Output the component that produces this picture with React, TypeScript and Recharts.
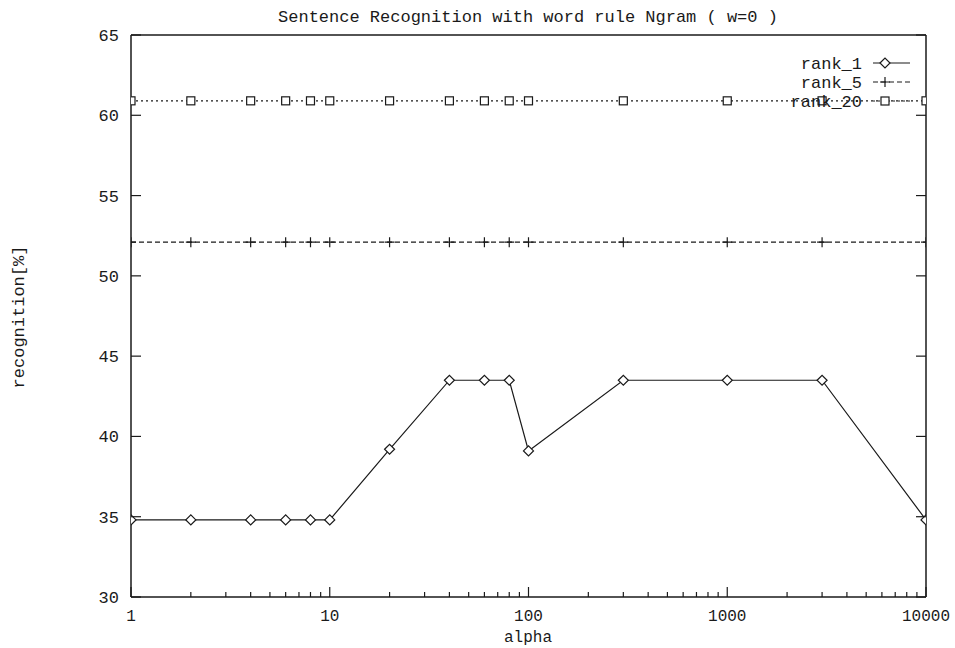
import React from 'react'
import { LineChart, Line, XAxis, YAxis } from 'recharts'

const alpha = [1, 2, 4, 6, 8, 10, 20, 40, 60, 80, 100, 300, 1000, 3000, 10000]
const rank1 = [34.8, 34.8, 34.8, 34.8, 34.8, 34.8, 39.2, 43.5, 43.5, 43.5, 39.1, 43.5, 43.5, 43.5, 34.8]
const rank5 = [52.1, 52.1, 52.1, 52.1, 52.1, 52.1, 52.1, 52.1, 52.1, 52.1, 52.1, 52.1, 52.1, 52.1, 52.1]
const rank20 = [60.9, 60.9, 60.9, 60.9, 60.9, 60.9, 60.9, 60.9, 60.9, 60.9, 60.9, 60.9, 60.9, 60.9, 60.9]

const xMajor = [1, 10, 100, 1000, 10000]
const xMinor = [2, 3, 4, 5, 6, 7, 8, 9, 20, 30, 40, 50, 60, 70, 80, 90, 200, 300, 400, 500, 600, 700, 800, 900, 2000, 3000, 4000, 5000, 6000, 7000, 8000, 9000]
const yTicks = [30, 35, 40, 45, 50, 55, 60, 65]

const data = alpha.map((a, i) => ({ alpha: a, rank_1: rank1[i], rank_5: rank5[i], rank_20: rank20[i] }))
const xTicks = [...xMajor, ...xMinor].sort((a, b) => a - b)

const FONT = '"Liberation Mono", "DejaVu Sans Mono", monospace'
const INK = '#1a1a1a'

const Diamond = ({ cx, cy }: any) => (
  <path d={`M${cx - 5},${cy} L${cx},${cy - 5} L${cx + 5},${cy} L${cx},${cy + 5} Z`} fill="#fff" stroke={INK} strokeWidth={1.2} />
)
const Plus = ({ cx, cy }: any) => (
  <path d={`M${cx - 5},${cy} H${cx + 5} M${cx},${cy - 5} V${cy + 5}`} stroke={INK} strokeWidth={1.2} fill="none" />
)
const Square = ({ cx, cy }: any) => (
  <rect x={cx - 4} y={cy - 4} width={8} height={8} fill="#fff" stroke={INK} strokeWidth={1.2} />
)

const BottomTick = ({ x, y, payload }: any) => {
  const major = xMajor.includes(payload.value)
  return (
    <g>
      <line x1={x} x2={x} y1={y} y2={y - (major ? 10 : 5)} stroke={INK} strokeWidth={1.2} />
      {major && (
        <text x={x} y={y + 24} textAnchor="middle" fontFamily={FONT} fontSize={16} fill={INK}>
          {payload.value}
        </text>
      )}
    </g>
  )
}
const TopTick = ({ x, y, payload }: any) => {
  const major = xMajor.includes(payload.value)
  return <line x1={x} x2={x} y1={y} y2={y + (major ? 10 : 5)} stroke={INK} strokeWidth={1.2} />
}
const LeftTick = ({ x, y, payload }: any) => (
  <g>
    <line x1={x} x2={x + 10} y1={y} y2={y} stroke={INK} strokeWidth={1.2} />
    <text x={x - 12} y={y + 6} textAnchor="end" fontFamily={FONT} fontSize={17} fill={INK}>
      {payload.value}
    </text>
  </g>
)
const RightTick = ({ x, y }: any) => <line x1={x} x2={x - 10} y1={y} y2={y} stroke={INK} strokeWidth={1.2} />

const legendRows = [
  { name: 'rank_1', y: 63, dash: undefined, Mark: Diamond },
  { name: 'rank_5', y: 82, dash: '5 3', Mark: Plus },
  { name: 'rank_20', y: 101, dash: '2 3', Mark: Square },
]

export default function App() {
  const axisLine = { stroke: INK, strokeWidth: 1.5 }
  return (
    <div style={{ position: 'absolute', left: 0, top: 0, width: 955, height: 648, background: '#fff' }}>
      <LineChart width={955} height={648} data={data} margin={{ top: 25, right: 19, bottom: 21, left: 71 }}>
        <XAxis xAxisId="b" dataKey="alpha" type="number" scale="log" domain={[1, 10000]} ticks={xTicks} interval={0}
          tick={<BottomTick />} tickLine={false} tickSize={0} tickMargin={0} axisLine={axisLine} height={30} allowDataOverflow />
        <XAxis xAxisId="t" orientation="top" type="number" scale="log" domain={[1, 10000]} ticks={xTicks} interval={0}
          tick={<TopTick />} tickLine={false} tickSize={0} tickMargin={0} axisLine={axisLine} height={10} allowDataOverflow />
        <YAxis yAxisId="l" type="number" domain={[30, 65]} ticks={yTicks} interval={0}
          tick={<LeftTick />} tickLine={false} tickSize={0} tickMargin={0} axisLine={axisLine} width={60} allowDataOverflow />
        <YAxis yAxisId="r" orientation="right" type="number" domain={[30, 65]} ticks={yTicks} interval={0}
          tick={<RightTick />} tickLine={false} tickSize={0} tickMargin={0} axisLine={axisLine} width={10} allowDataOverflow />
        <Line xAxisId="b" yAxisId="l" dataKey="rank_20" stroke={INK} strokeWidth={1.2} strokeDasharray="2 3" dot={<Square />} isAnimationActive={false} />
        <Line xAxisId="b" yAxisId="l" dataKey="rank_5" stroke={INK} strokeWidth={1.2} strokeDasharray="5 3" dot={<Plus />} isAnimationActive={false} />
        <Line xAxisId="b" yAxisId="l" dataKey="rank_1" stroke={INK} strokeWidth={1.2} dot={<Diamond />} isAnimationActive={false} />
      </LineChart>
      <svg width={955} height={648} style={{ position: 'absolute', left: 0, top: 0, pointerEvents: 'none' }}>
        <text x={528} y={22} textAnchor="middle" fontFamily={FONT} fontSize={17} fill={INK}>
          Sentence Recognition with word rule Ngram ( w=0 )
        </text>
        <text x={528} y={642} textAnchor="middle" fontFamily={FONT} fontSize={16} fill={INK}>alpha</text>
        <text x={24} y={317} textAnchor="middle" fontFamily={FONT} fontSize={17} fill={INK} transform="rotate(-90 24 317)">
          recognition[%]
        </text>
        {legendRows.map(({ name, y, dash, Mark }) => (
          <g key={name}>
            <text x={862} y={y + 6} textAnchor="end" fontFamily={FONT} fontSize={17} fill={INK}>{name}</text>
            <line x1={873} x2={910} y1={y} y2={y} stroke={INK} strokeWidth={1.2} strokeDasharray={dash} />
            <Mark cx={885} cy={y} />
          </g>
        ))}
      </svg>
    </div>
  )
}
